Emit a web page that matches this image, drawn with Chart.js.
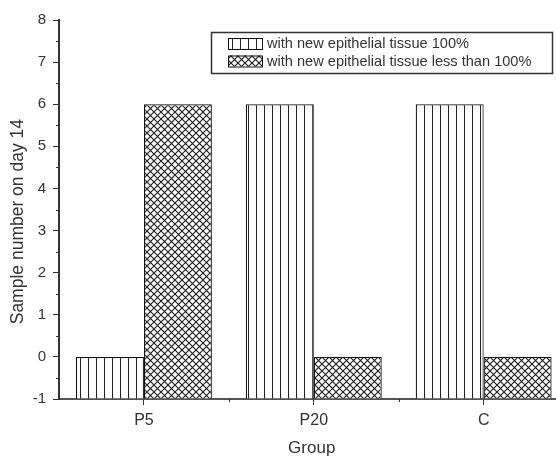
<!DOCTYPE html>
<html>
<head>
<meta charset="utf-8">
<script src="https://cdn.jsdelivr.net/npm/chart.js@4"></script>
<style>
  body { margin: 0; background: #fff; }
  #wrap { width: 556px; height: 457px; }
</style>
</head>
<body>
<div id="wrap"><canvas id="chart" width="556" height="457"></canvas></div>
<script>
// data
var groups = ["P5", "P20", "C"];
var fullTissue = [0, 6, 6];
var partTissue = [6, 0, 0];
var seriesNames = ["with new epithelial tissue 100%", "with new epithelial tissue less than 100%"];
var yTicks = [-1, 0, 1, 2, 3, 4, 5, 6, 7, 8];

var FONT = "'Liberation Sans', Arial, sans-serif";

// hatch patterns like the original plot
function vlinePattern() {
  var c = document.createElement('canvas');
  c.width = 8; c.height = 8;
  var g = c.getContext('2d');
  g.fillStyle = '#fff';
  g.fillRect(0, 0, 8, 8);
  g.strokeStyle = '#222';
  g.lineWidth = 1;
  g.beginPath();
  g.moveTo(0.5, 0); g.lineTo(0.5, 8);
  g.stroke();
  return g.createPattern(c, 'repeat');
}

function crossPattern() {
  var s = 7;
  var c = document.createElement('canvas');
  c.width = s; c.height = s;
  var g = c.getContext('2d');
  g.fillStyle = '#fff';
  g.fillRect(0, 0, s, s);
  g.strokeStyle = '#1a1a1a';
  g.lineWidth = 1.1;
  g.beginPath();
  g.moveTo(-1, -1); g.lineTo(s + 1, s + 1);
  g.moveTo(s + 1, -1); g.lineTo(-1, s + 1);
  g.stroke();
  return g.createPattern(c, 'repeat');
}

var patV = vlinePattern();
var patX = crossPattern();

function toPoints(vals) {
  return vals.map(function(v, i) { return {x: i, y: v}; });
}

// minor ticks + boxed legend
var extras = {
  id: 'extras',
  afterDraw: function(chart) {
    var ctx = chart.ctx;
    var xs = chart.scales.x, ys = chart.scales.y;
    ctx.save();
    ctx.strokeStyle = '#333';
    ctx.lineWidth = 1;
    ctx.beginPath();
    for (var v = yTicks[0] + 0.5; v < yTicks[yTicks.length - 1]; v += 1) {
      var py = Math.round(ys.getPixelForValue(v)) + 0.5;
      ctx.moveTo(xs.left - 3, py); ctx.lineTo(xs.left, py);
    }
    for (var i = 0; i < groups.length - 1; i++) {
      var px = Math.round(xs.getPixelForValue(i + 0.5)) + 0.5;
      ctx.moveTo(px, ys.bottom); ctx.lineTo(px, ys.bottom + 3);
    }
    ctx.stroke();

    // legend
    ctx.strokeStyle = '#333';
    ctx.lineWidth = 1.5;
    ctx.strokeRect(211.5, 32.5, 341, 41);
    var pats = [patV, patX];
    var rows = [43.5, 61];
    ctx.font = '14.6px ' + FONT;
    ctx.textBaseline = 'middle';
    for (var k = 0; k < seriesNames.length; k++) {
      ctx.fillStyle = pats[k];
      ctx.fillRect(228, rows[k] - 5.5, 35, 11);
      ctx.strokeStyle = '#111';
      ctx.lineWidth = 1;
      ctx.strokeRect(228.5, rows[k] - 5, 34, 11);
      ctx.fillStyle = '#333';
      ctx.fillText(seriesNames[k], 267, rows[k] + 0.5);
    }
    ctx.restore();
  }
};

new Chart(document.getElementById('chart'), {
  type: 'bar',
  data: {
    datasets: [{
      label: seriesNames[0],
      data: toPoints(fullTissue),
      backgroundColor: patV,
      borderColor: '#111',
      borderWidth: 1.2,
      base: yTicks[0]
    }, {
      label: seriesNames[1],
      data: toPoints(partTissue),
      backgroundColor: patX,
      borderColor: '#111',
      borderWidth: 1.2,
      base: yTicks[0]
    }]
  },
  options: {
    responsive: false,
    animation: false,
    categoryPercentage: 0.8,
    barPercentage: 1,
    layout: { padding: { top: 20, right: 1, left: 0, bottom: 0 } },
    plugins: {
      legend: { display: false },
      tooltip: { enabled: false }
    },
    scales: {
      x: {
        type: 'linear',
        offset: false,
        min: -0.5,
        max: 2.42,
        afterBuildTicks: function(axis) {
          axis.ticks = groups.map(function(g, i) { return {value: i}; });
        },
        afterFit: function(axis) { axis.height = 58; },
        ticks: {
          callback: function(v) { return groups[v]; },
          color: '#333',
          padding: 6,
          font: { family: FONT, size: 16 },
          maxRotation: 0
        },
        grid: { drawOnChartArea: false, offset: false, tickLength: 6, tickColor: '#333', tickWidth: 1 },
        border: { color: '#555', width: 2 },
        title: {
          display: true,
          text: '  Group',
          color: '#333',
          font: { family: FONT, size: 17, lineHeight: 1 },
          padding: { top: 0, bottom: 0 }
        }
      },
      y: {
        min: yTicks[0],
        max: yTicks[yTicks.length - 1],
        afterBuildTicks: function(axis) {
          axis.ticks = yTicks.map(function(v) { return {value: v}; });
        },
        afterFit: function(axis) { axis.width = 59; },
        ticks: {
          color: '#333',
          padding: 7,
          font: { family: FONT, size: 15 }
        },
        grid: { drawOnChartArea: false, tickLength: 6, tickColor: '#333', tickWidth: 1 },
        border: { color: '#333', width: 2 },
        title: {
          display: true,
          text: 'Sample number on day 14     ',
          color: '#333',
          font: { family: FONT, size: 17.5, lineHeight: 1 },
          padding: { top: 9, bottom: 0 }
        }
      }
    }
  },
  plugins: [extras]
});
</script>
</body>
</html>
